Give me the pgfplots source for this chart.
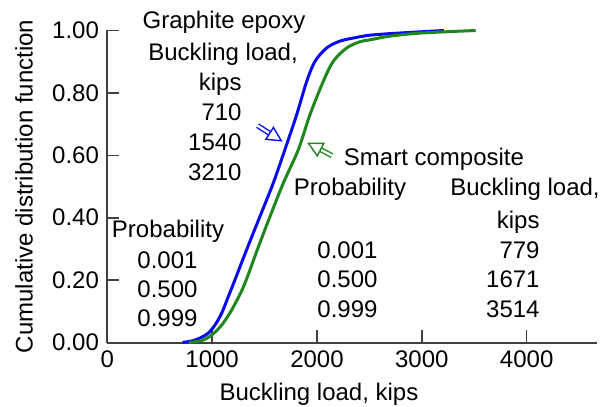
\documentclass[border=0pt]{standalone}
\usepackage{pgfplots}
\pgfplotsset{compat=1.18}
\usepackage{fontspec}
\setmainfont{Liberation Sans}
\usetikzlibrary{arrows.meta}
\definecolor{cblue}{RGB}{10,10,240}
\definecolor{cgreen}{RGB}{30,135,30}
\definecolor{axgray}{RGB}{64,64,64}
\begin{document}
\fontsize{12bp}{14bp}\selectfont
\begin{tikzpicture}
\begin{axis}[
  name=ax,
  scale only axis,
  width=244.7bp, height=156bp,
  xmin=0, xmax=4668, ymin=0, ymax=1,
  axis lines*=left,
  axis line style={axgray, line width=1bp},
  tick style={axgray, line width=0.8bp},
  tick align=inside,
  major tick length=6bp,
  xtick={0,1000,2000,3000,4000},
  ytick={0,0.2,0.4,0.6,0.8,1.0},
  /pgf/number format/assume math mode=true,
  xticklabel style={/pgf/number format/set thousands separator={}, /pgf/number format/fixed},
  yticklabel style={/pgf/number format/fixed, /pgf/number format/fixed zerofill, /pgf/number format/precision=2},
  xlabel={Buckling load, kips},
  xlabel style={xshift=-16.5bp, yshift=0.5bp},
  ylabel={Cumulative distribution function},
  ylabel style={yshift=1.5bp},
  clip=false,
  font=\fontsize{12bp}{14bp}\selectfont,
]
\addplot[cblue, line width=1.5bp, smooth, tension=0.5] coordinates {
(718,0) (820,0.006) (900,0.017) (963,0.030) (1027,0.056) (1091,0.094) (1154,0.147) (1218,0.201) (1282,0.257) (1370,0.332) (1456,0.404) (1583,0.511) (1694,0.618) (1806,0.730) (1902,0.837) (1981,0.901) (2092,0.944) (2219,0.966) (2379,0.978) (2505,0.985) (2698,0.990) (3000,0.996) (3210,1.0)
};
\addplot[cgreen, line width=1.5bp, smooth, tension=0.5] coordinates {
(779,0) (900,0.006) (996,0.024) (1091,0.056) (1186,0.104) (1282,0.166) (1345,0.218) (1425,0.292) (1552,0.404) (1679,0.511) (1822,0.618) (1933,0.730) (2060,0.837) (2155,0.901) (2283,0.944) (2410,0.964) (2505,0.970) (2698,0.982) (3000,0.992) (3514,1.0)
};
% Graphite epoxy annotation
\node at (axis cs:1113,1.026) {Graphite epoxy};
\node at (axis cs:1104,0.923) {Buckling load,};
\node[anchor=east] at (axis cs:1361,0.827) {kips};
\node[anchor=east] at (axis cs:1361,0.737) {710};
\node[anchor=east] at (axis cs:1361,0.643) {1540};
\node[anchor=east] at (axis cs:1361,0.547) {3210};
\draw[cblue, double, double distance=1.2bp, line width=0.7bp, -{Triangle[open, length=8bp, width=8bp]}] (axis cs:1433,0.695) -- (axis cs:1672,0.644);
\draw[cgreen, double, double distance=1.2bp, line width=0.7bp, -{Triangle[open, length=8bp, width=8bp]}] (axis cs:2143,0.599) -- (axis cs:1905,0.641);
\node at (axis cs:3116,0.586) {Smart composite};
\node at (axis cs:2315,0.490) {Probability};
\node at (axis cs:3984,0.490) {Buckling load,};
\node[anchor=east] at (axis cs:4203,0.386) {kips};
\node at (axis cs:2291,0.297) {0.001};
\node at (axis cs:2291,0.204) {0.500};
\node at (axis cs:2291,0.107) {0.999};
\node[anchor=east] at (axis cs:4203,0.297) {779};
\node[anchor=east] at (axis cs:4203,0.204) {1671};
\node[anchor=east] at (axis cs:4203,0.107) {3514};
\node at (axis cs:579,0.355) {Probability};
\node at (axis cs:574,0.265) {0.001};
\node at (axis cs:574,0.172) {0.500};
\node at (axis cs:574,0.079) {0.999};
\end{axis}
\pgfresetboundingbox
\path[use as bounding box] ([shift={(-53.65bp,-32.25bp)}]ax.south west) rectangle ([shift={(246.35bp,171.25bp)}]ax.south west);
\end{tikzpicture}
\end{document}
